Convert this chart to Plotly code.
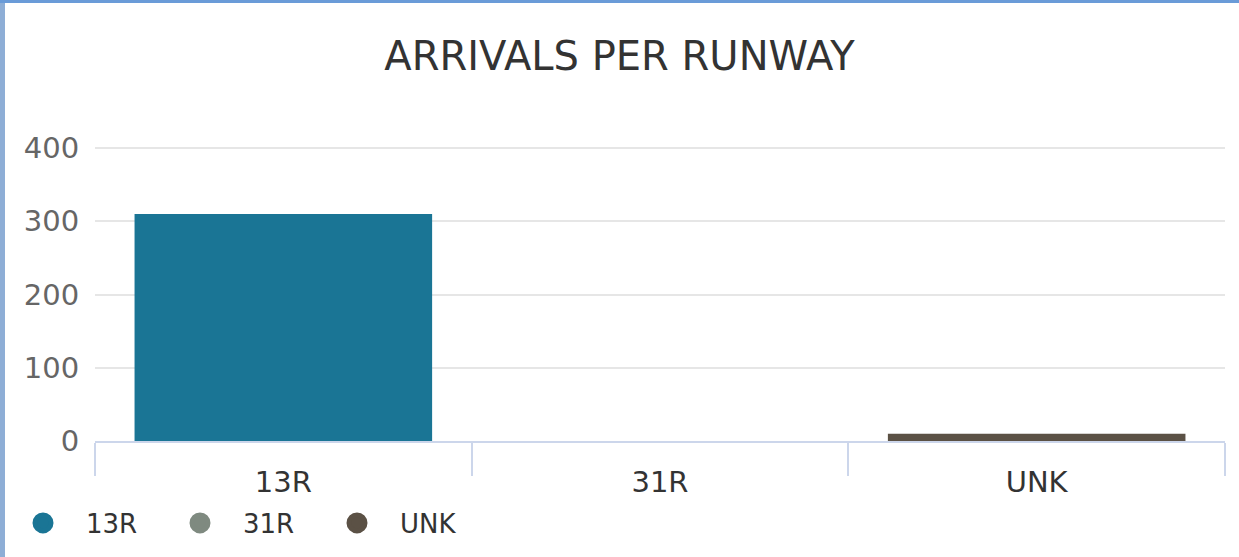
import plotly.graph_objects as go

W, H = 1239, 557
ML, MR, MT, MB = 95, 14, 147, 116

title = "ARRIVALS PER RUNWAY"
categories = ["13R", "31R", "UNK"]
values = [310, 0, 10]
colors = ["#1a7595", "#7f8a80", "#5b5145"]
y_ticks = [0, 100, 200, 300, 400]

FONT = "DejaVu Sans"

fig = go.Figure()
for cat, val, col in zip(categories, values, colors):
    fig.add_trace(go.Bar(
        x=[cat], y=[val], name=cat, marker=dict(color=col, line=dict(width=0)),
        width=0.79, showlegend=False,
    ))
    fig.add_trace(go.Scatter(
        x=[None], y=[None], mode="markers", name=cat,
        marker=dict(symbol="circle", size=16, color=col, line=dict(color=col, width=5)),
        showlegend=True,
    ))

# decorative window frame edges (outside the chart)
pw = W - ML - MR
ph = H - MT - MB
fig.add_shape(type="rect", xref="paper", yref="paper",
              x0=-ML / pw, x1=(5 - ML) / pw, y0=-MB / ph, y1=1 + MT / ph,
              fillcolor="#8eaed6", line=dict(width=0), layer="below")
fig.add_shape(type="rect", xref="paper", yref="paper",
              x0=-ML / pw, x1=1 + MR / pw, y0=1 + (MT - 3) / ph, y1=1 + MT / ph,
              fillcolor="#6a9bd8", line=dict(width=0), layer="below")

fig.update_layout(
    width=W, height=H,
    margin=dict(l=ML, r=MR, t=MT, b=MB, pad=0, autoexpand=False),
    paper_bgcolor="white", plot_bgcolor="white",
    barmode="overlay",
    title=dict(text=title, x=0.5, xanchor="center", xref="container",
               y=1 - 56 / H, yanchor="middle", yref="container",
               font=dict(family=FONT, size=40, color="#333333"), automargin=False),
    font=dict(family=FONT),
    xaxis=dict(
        type="category", categoryorder="array", categoryarray=categories,
        showline=True, linecolor="#ccd6eb", linewidth=2,
        ticks="outside", tickson="boundaries", ticklen=33, tickcolor="#ccd6eb", tickwidth=2,
        ticklabelstandoff=14,
        tickfont=dict(family=FONT, size=29, color="#333333"),
        showgrid=False, zeroline=False, fixedrange=True, automargin=False,
    ),
    yaxis=dict(
        range=[0, 401.4], tickvals=y_ticks,
        showgrid=True, gridcolor="#e6e6e6", gridwidth=2,
        zeroline=False, showline=False,
        ticks="outside", ticklen=9, tickcolor="rgba(0,0,0,0)",
        tickfont=dict(family=FONT, size=29, color="#666666"),
        fixedrange=True, automargin=False,
    ),
    legend=dict(
        orientation="h", xref="container", yref="container",
        x=0, xanchor="left", y=1 - 523 / H, yanchor="middle",
        itemwidth=76, entrywidth=66, entrywidthmode="pixels",
        font=dict(family=FONT, size=26, color="#333333"),
        bgcolor="rgba(0,0,0,0)", borderwidth=0,
        itemclick=False, itemdoubleclick=False,
    ),
    showlegend=True,
)

fig.write_html("out.html", config={"displayModeBar": False},
               post_script="document.body.style.margin='0';document.body.style.overflow='hidden';")
